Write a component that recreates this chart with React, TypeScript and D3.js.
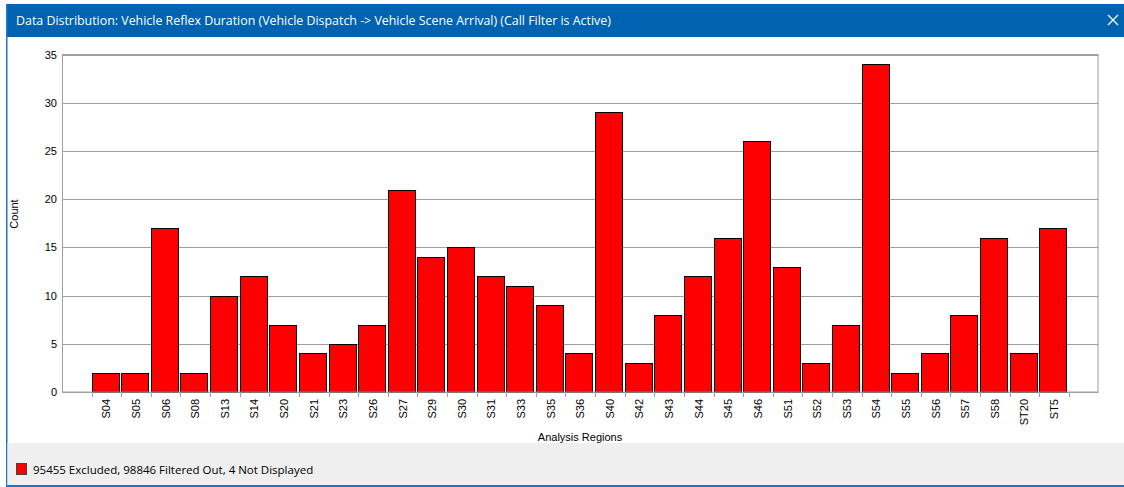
import React from "react";
import * as d3 from "d3";

const categories = ["S04","S05","S06","S08","S13","S14","S20","S21","S23","S26","S27","S29","S30","S31","S33","S35","S36","S40","S42","S43","S44","S45","S46","S51","S52","S53","S54","S55","S56","S57","S58","ST20","ST5"];
const counts = [2,2,17,2,10,12,7,4,5,7,21,14,15,12,11,9,4,29,3,8,12,16,26,13,3,7,34,2,4,8,16,4,17];
const yTicks = [0,5,10,15,20,25,30,35];
const title = "Data Distribution: Vehicle Reflex Duration (Vehicle Dispatch -> Vehicle Scene Arrival) (Call Filter is Active)";
const footerText = "95455 Excluded, 98846 Filtered Out, 4 Not Displayed";

export default function App() {
  const W = 1124, H = 487;
  const left = 62, right = 1098.5, top = 54.5, bottom = 392;
  const slots = ["__a", ...categories, "__b"];
  const x = d3.scaleBand<string>().domain(slots).range([left, right]).paddingInner(0).paddingOuter(0);
  const y = d3.scaleLinear().domain([0, 35]).range([bottom, top]);
  const bw = x.bandwidth();
  const font = "Liberation Sans, Arial, sans-serif";
  const uiFont = "Open Sans, Noto Sans, sans-serif";
  const boundaries = categories.map((c) => x(c)!).concat([x("__b")!]);
  return (
    <svg width={W} height={H} style={{ position: "absolute", left: 0, top: 0, background: "#fff" }}>
      {/* title bar */}
      <rect x={6} y={4} width={W - 6} height={33} fill="#0063b1" />
      <text x={16} y={25} fill="#fff" fontFamily={uiFont} fontSize={12.4}>{title}</text>
      <g stroke="#fff" strokeWidth={1.2}>
        <line x1={1108} y1={15} x2={1118} y2={25} />
        <line x1={1118} y1={15} x2={1108} y2={25} />
      </g>
      {/* window borders */}
      <rect x={6} y={4} width={1.5} height={H - 4} fill="#1f75c8" />
      <rect x={6} y={485} width={W - 6} height={2} fill="#1f75c8" />
      {/* footer */}
      <rect x={7.5} y={443} width={W - 7.5} height={42} fill="#efefef" />
      <rect x={16.5} y={463.5} width={10} height={11} fill="#ff0000" stroke="#444" strokeWidth={1} />
      <text x={33} y={474} fill="#000" fontFamily={uiFont} fontSize={11.5}>{footerText}</text>

      {/* gridlines */}
      {yTicks.map((t) => (
        <line key={t} x1={left} x2={right} y1={Math.round(y(t)) + 0.5} y2={Math.round(y(t)) + 0.5} stroke="#a0a0a0" strokeWidth={1} />
      ))}
      {/* bars */}
      {categories.map((c, i) => {
        const x0 = Math.round(x(c)!) + 0.5;
        const y0 = Math.round(y(counts[i])) + 0.5;
        return (
          <rect key={c} x={x0} y={y0} width={bw - 2.6} height={bottom - y0} fill="#ff0000" stroke="#000" strokeWidth={1} />
        );
      })}
      {/* plot frame */}
      <rect x={left + 0.5} y={top} width={right - left - 1} height={bottom - top} fill="none" stroke="#a0a0a0" strokeWidth={1} />
      {/* x ticks */}
      {boundaries.map((b, i) => (
        <line key={i} x1={Math.round(b) + 0.5} x2={Math.round(b) + 0.5} y1={bottom} y2={bottom + 5} stroke="#a0a0a0" strokeWidth={1} />
      ))}
      {/* y labels */}
      {yTicks.map((t) => (
        <text key={t} x={57} y={y(t) + 4} textAnchor="end" fontFamily={font} fontSize={11} fill="#000">{t}</text>
      ))}
      {/* x labels */}
      {categories.map((c) => (
        <text key={c} transform={`translate(${x(c)! + bw / 2 + 4},${399}) rotate(-90)`} textAnchor="end" fontFamily={font} fontSize={11} fill="#000">{c}</text>
      ))}
      <text x={580} y={441} textAnchor="middle" fontFamily={font} fontSize={11} fill="#000">Analysis Regions</text>
      <text transform={`translate(18,214) rotate(-90)`} textAnchor="middle" fontFamily={font} fontSize={11} fill="#000">Count</text>
    </svg>
  );
}
